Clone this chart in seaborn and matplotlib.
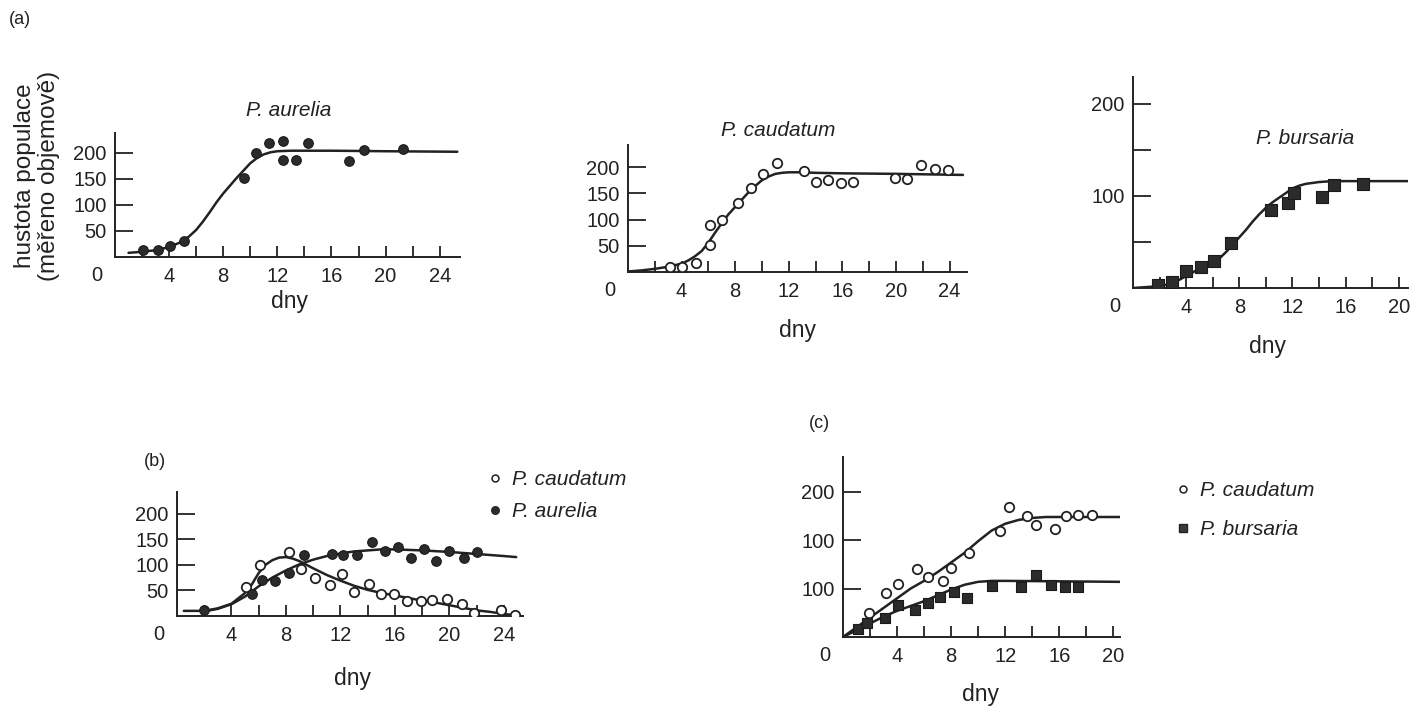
import matplotlib
matplotlib.use('Agg')
import matplotlib.pyplot as plt
from matplotlib.lines import Line2D
import seaborn as sns

# ---------------- data
# (a) single-species cultures
aur_day = [2.1, 3.2, 4.1, 5.1, 9.5, 10.4, 11.4, 12.4, 12.4, 13.4, 14.3, 17.3, 18.4, 21.3]
aur_val = [14, 14, 22, 30, 152, 200, 218, 222, 187, 187, 218, 185, 205, 207]
aur_fit_day = [1, 2, 3, 4, 5, 5.5, 6, 6.5, 7, 7.5, 8, 8.5, 9, 9.5, 10, 10.5, 11, 11.5, 12, 13, 14, 16, 20, 25.3]
aur_fit_val = [8, 10, 13, 19, 30, 40, 52, 68, 86, 105, 122, 137, 152, 166, 180, 190, 197, 201, 203, 204, 204, 204, 203, 202]

cau_day = [3.1, 4.0, 5.1, 6.1, 6.1, 7.0, 8.2, 9.2, 10.1, 11.1, 13.1, 14.0, 14.9, 15.9, 16.8, 19.9, 20.8, 21.9, 22.9, 23.9]
cau_val = [10, 10, 17, 90, 52, 100, 132, 160, 186, 208, 192, 171, 176, 169, 171, 180, 178, 203, 196, 194]
cau_fit_day = [0, 1, 2, 3, 4, 4.5, 5, 5.5, 6, 6.5, 7, 7.5, 8, 8.5, 9, 9.5, 10, 10.5, 11, 11.5, 12, 13, 14, 16, 20, 25]
cau_fit_val = [1, 3, 6, 10, 16, 22, 30, 40, 56, 75, 93, 110, 124, 138, 152, 164, 175, 182, 187, 189, 190, 190, 189, 188, 187, 185]

bur_day = [1.9, 2.9, 4.0, 5.1, 6.1, 7.4, 10.4, 11.7, 12.1, 14.2, 15.1, 17.3]
bur_val = [3, 6, 18, 23, 29, 49, 85, 92, 103, 99, 112, 113]
bur_fit_day = [0, 1, 2, 3, 4, 5, 6, 6.5, 7, 7.5, 8, 8.5, 9, 9.5, 10, 10.5, 11, 11.5, 12, 12.5, 13, 14, 15, 17, 20.7]
bur_fit_val = [0, 1, 2, 5, 13, 21, 27, 32, 39, 47, 55, 63, 72, 80, 87, 93, 98, 103, 108, 111, 113, 115, 116, 116, 116]

# (b) P. caudatum + P. aurelia
b_cau_day = [5.1, 6.1, 8.2, 9.1, 10.1, 11.2, 12.1, 13.0, 14.1, 15.0, 15.9, 16.9, 17.9, 18.7, 19.8, 20.9, 21.8, 23.8, 24.8]
b_cau_val = [56, 99, 125, 92, 74, 60, 82, 46, 63, 42, 43, 29, 30, 32, 34, 23, 6, 12, 2]
b_aur_day = [2.0, 5.5, 6.25, 7.2, 8.2, 9.3, 11.4, 12.2, 13.2, 14.3, 15.3, 16.2, 17.2, 18.1, 19.0, 20.0, 21.1, 22.0]
b_aur_val = [12, 43, 70, 68, 84, 119, 121, 119, 119, 145, 127, 134, 114, 130, 108, 127, 114, 124]
b_cau_fit_day = [0.5, 2, 3, 4, 5, 5.5, 6, 6.5, 7, 7.5, 8, 8.5, 9, 10, 11, 12, 13, 14, 15, 16, 17, 18, 19, 20, 21, 22, 23, 24, 24.9]
b_cau_fit_val = [10, 10, 15, 24, 45, 62, 84, 100, 109, 114, 115, 112, 107, 93, 80, 69, 59, 51, 45, 40, 35, 30, 26, 21, 16, 11, 8, 4, 1]
b_aur_fit_day = [2.4, 3, 4, 5, 6, 7, 8, 9, 10, 11, 12, 13, 14, 15, 16, 18, 20, 22, 24, 24.9]
b_aur_fit_val = [11, 14, 23, 38, 58, 75, 89, 101, 110, 117, 122, 126, 128, 130, 130, 128, 125, 121, 117, 115]

# (c) P. caudatum + P. bursaria
c_cau_day = [1.9, 3.2, 4.1, 5.5, 6.3, 7.4, 8.0, 9.3, 11.6, 12.3, 13.6, 14.3, 15.7, 16.5, 17.4, 18.4]
c_cau_val = [25, 45, 55, 70, 62, 58, 71, 87, 110, 134, 125, 116, 112, 125, 126, 126]
c_bur_day = [1.1, 1.8, 3.1, 4.1, 5.3, 6.3, 7.2, 8.2, 9.2, 11.0, 13.2, 14.25, 15.4, 16.4, 17.4]
c_bur_val = [8, 14, 20, 33, 28, 35, 41, 47, 40, 53, 52, 64, 54, 52, 52]
c_cau_fit_day = [0, 1, 2, 3, 4, 5, 6, 7, 8, 9, 10, 11, 12, 13, 14, 15, 16, 20.5]
c_cau_fit_val = [0, 10, 20, 30, 40, 50, 58, 67, 77, 87, 99, 110, 117, 121, 123, 124, 124, 124]
c_bur_fit_day = [0, 1, 2, 3, 4, 5, 6, 7, 8, 9, 10, 11, 12, 20.5]
c_bur_fit_val = [0, 7, 14, 21, 27, 32, 37, 43, 49, 54, 57, 58, 58, 57]
c_ytick_labels = ['100', '100', '200']

sns.set_style('ticks')
plt.rcParams['font.family'] = ['Liberation Sans', 'DejaVu Sans']
plt.rcParams['axes.linewidth'] = 1.4

INK = '#222222'
W, H = 1410, 708
fig = plt.figure(figsize=(W / 100, H / 100), dpi=100)


def px_rect(left, right, top, bottom):
    return [left / W, 1 - bottom / H, (right - left) / W, (bottom - top) / H]


def ftext(x, y, s, **kw):
    fig.text(x / W, 1 - y / H, s, ha='center', va='center', color=INK, **kw)


def style(ax, xmax, ymax, xlast, yticks, ylabels):
    sns.despine(ax=ax)
    ax.set_xlim(0, xmax)
    ax.set_ylim(0, ymax)
    xt = list(range(2, xlast + 1, 2))
    ax.set_xticks(xt)
    ax.set_xticklabels([str(t) if t % 4 == 0 else '' for t in xt])
    ax.set_yticks(yticks)
    ax.set_yticklabels(ylabels)
    ax.tick_params(axis='x', direction='in', length=8, width=1.3, pad=7,
                   labelsize=14.5, colors=INK)
    ax.tick_params(axis='y', direction='in', length=13, width=1.3, pad=6,
                   labelsize=14.5, colors=INK)
    for s in ax.spines.values():
        s.set_color(INK)
    ax.set_xlabel('')
    ax.set_ylabel('')
    ax.patch.set_alpha(0)
    ax.annotate('0', xy=(0, 0), xycoords='axes fraction', xytext=(-13, -13),
                textcoords='offset points', ha='center', va='center',
                fontsize=14.5, color=INK)


def curve(ax, d, v):
    sns.lineplot(x=d, y=v, ax=ax, color=INK, linewidth=1.8, legend=False)


def filled(ax, d, v, marker='o', s=48):
    sns.scatterplot(x=d, y=v, ax=ax, marker=marker, s=s, color='#2b2b2b',
                    edgecolor='#1a1a1a', linewidth=0.8, legend=False, zorder=3)


def hollow(ax, d, v, s=46):
    sns.scatterplot(x=d, y=v, ax=ax, marker='o', s=s, facecolor='white',
                    edgecolor=INK, linewidth=1.3, legend=False, zorder=3)


# ---- (a) P. aurelia
ax1 = fig.add_axes(px_rect(115, 460, 133, 257))
curve(ax1, aur_fit_day, aur_fit_val)
filled(ax1, aur_day, aur_val)
style(ax1, 25.5, 238, 24, [50, 100, 150, 200], ['50', '100', '150', '200'])

# ---- (a) P. caudatum
ax2 = fig.add_axes(px_rect(628, 967, 145, 272))
curve(ax2, cau_fit_day, cau_fit_val)
hollow(ax2, cau_day, cau_val)
style(ax2, 25.3, 242, 24, [50, 100, 150, 200], ['50', '100', '150', '200'])

# ---- (a) P. bursaria
ax3 = fig.add_axes(px_rect(1133, 1408, 77, 288))
curve(ax3, bur_fit_day, bur_fit_val)
filled(ax3, bur_day, bur_val, marker='s', s=64)
style(ax3, 20.7, 229, 20, [50, 100, 150, 200], ['', '100', '', '200'])

# ---- (b) mixed culture caudatum + aurelia
axb = fig.add_axes(px_rect(177, 523, 492, 616))
curve(axb, b_cau_fit_day, b_cau_fit_val)
curve(axb, b_aur_fit_day, b_aur_fit_val)
hollow(axb, b_cau_day, b_cau_val)
filled(axb, b_aur_day, b_aur_val)
style(axb, 25.4, 242, 24, [50, 100, 150, 200], ['50', '100', '150', '200'])

# ---- (c) mixed culture caudatum + bursaria
axc = fig.add_axes(px_rect(843, 1120, 457, 637))
curve(axc, c_cau_fit_day, c_cau_fit_val)
curve(axc, c_bur_fit_day, c_bur_fit_val)
hollow(axc, c_cau_day, c_cau_val)
filled(axc, c_bur_day, c_bur_val, marker='s', s=56)
style(axc, 20.5, 186, 20, [50, 100, 150], c_ytick_labels)

# ---- legends
h_open = Line2D([], [], ls='none', marker='o', ms=5, mfc='white', mec=INK, mew=1.1)
h_dot = Line2D([], [], ls='none', marker='o', ms=5.5, mfc='#2b2b2b', mec='#2b2b2b')
h_sq = Line2D([], [], ls='none', marker='s', ms=5.5, mfc='#3a3a3a', mec='#222222')
leg_font = {'style': 'italic', 'size': 15}
axb.legend([h_open, h_dot], ['P. caudatum', 'P. aurelia'], loc='upper left',
           bbox_to_anchor=(478 / W, 1 - 460 / H), bbox_transform=fig.transFigure,
           frameon=False, prop=leg_font, handlelength=0.6, handletextpad=0.55,
           labelspacing=0.6, borderpad=0, labelcolor=INK)
axc.legend([h_open, h_sq], ['P. caudatum', 'P. bursaria'], loc='upper left',
           bbox_to_anchor=(1166 / W, 1 - 471 / H), bbox_transform=fig.transFigure,
           frameon=False, prop=leg_font, handlelength=0.6, handletextpad=0.55,
           labelspacing=0.95, borderpad=0, labelcolor=INK)

# ---- titles and labels
ftext(289, 110, 'P. aurelia', fontsize=15, style='italic')
ftext(778, 131, 'P. caudatum', fontsize=15, style='italic')
ftext(1305, 138, 'P. bursaria', fontsize=15, style='italic')
for x, y in [(289, 301), (797, 331), (1268, 347), (353, 678), (981, 694)]:
    ftext(x, y, 'dny', fontsize=16.5)
ftext(20, 20, '(a)', fontsize=13)
ftext(155, 461, '(b)', fontsize=13)
ftext(819, 423, '(c)', fontsize=13)
ftext(37, 176, 'hustota populace\n(měřeno objemově)', fontsize=17.5,
      rotation=90, linespacing=1.15)

fig.savefig('out.png', dpi=100)
